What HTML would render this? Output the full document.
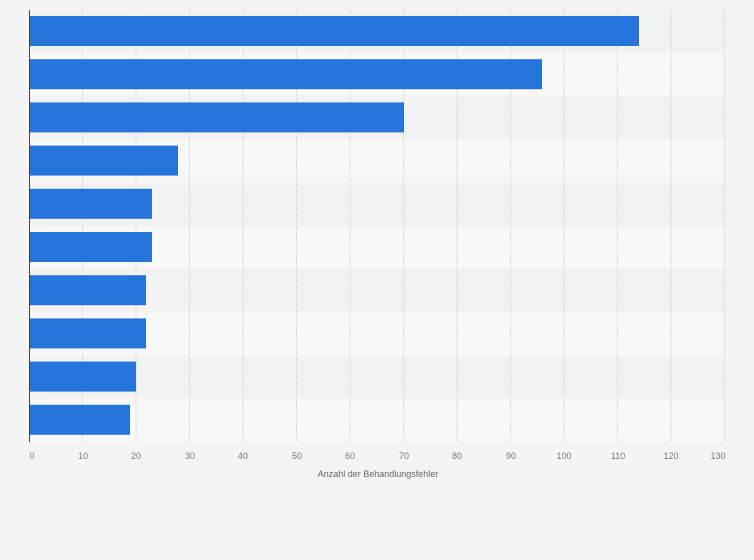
<!DOCTYPE html>
<html><head><meta charset="utf-8"><style>
body{margin:0;background:#f4f4f4;}
svg{display:block;font-family:"Liberation Sans",sans-serif;}
</style></head><body>
<svg width="754" height="560" xmlns="http://www.w3.org/2000/svg">
<rect width="754" height="560" fill="#f4f4f4"/>
<g>
<rect x="30" y="10" width="695" height="43.2" fill="#f2f2f2"/>
<rect x="30" y="53.2" width="695" height="43.2" fill="#f8f8f8"/>
<rect x="30" y="96.4" width="695" height="43.2" fill="#f2f2f2"/>
<rect x="30" y="139.6" width="695" height="43.2" fill="#f8f8f8"/>
<rect x="30" y="182.8" width="695" height="43.2" fill="#f2f2f2"/>
<rect x="30" y="226" width="695" height="43.2" fill="#f8f8f8"/>
<rect x="30" y="269.2" width="695" height="43.2" fill="#f2f2f2"/>
<rect x="30" y="312.4" width="695" height="43.2" fill="#f8f8f8"/>
<rect x="30" y="355.6" width="695" height="43.2" fill="#f2f2f2"/>
<rect x="30" y="398.8" width="695" height="43.2" fill="#f8f8f8"/>
</g>
<g stroke="#d6d6d6" stroke-width="1" stroke-dasharray="2,1">
<line x1="82.5" y1="10" x2="82.5" y2="442"/>
<line x1="136" y1="10" x2="136" y2="442"/>
<line x1="189.5" y1="10" x2="189.5" y2="442"/>
<line x1="243" y1="10" x2="243" y2="442"/>
<line x1="296.5" y1="10" x2="296.5" y2="442"/>
<line x1="350" y1="10" x2="350" y2="442"/>
<line x1="403.5" y1="10" x2="403.5" y2="442"/>
<line x1="457" y1="10" x2="457" y2="442"/>
<line x1="510.5" y1="10" x2="510.5" y2="442"/>
<line x1="564" y1="10" x2="564" y2="442"/>
<line x1="617.5" y1="10" x2="617.5" y2="442"/>
<line x1="671" y1="10" x2="671" y2="442"/>
<line x1="724.5" y1="10" x2="724.5" y2="442"/>
</g>
<g fill="#2574dc">
<rect x="30" y="16" width="609" height="30"/>
<rect x="30" y="59.2" width="512" height="30"/>
<rect x="30" y="102.4" width="374" height="30"/>
<rect x="30" y="145.6" width="148" height="30"/>
<rect x="30" y="188.8" width="122" height="30"/>
<rect x="30" y="232" width="122" height="30"/>
<rect x="30" y="275.2" width="116" height="30"/>
<rect x="30" y="318.4" width="116" height="30"/>
<rect x="30" y="361.6" width="106" height="30"/>
<rect x="30" y="404.8" width="100" height="30"/>
</g>
<line x1="29.5" y1="10" x2="29.5" y2="442" stroke="#444" stroke-width="1"/>
<g font-size="9" fill="#777" text-anchor="middle">
<text x="32" y="459">0</text>
<text x="83" y="459">10</text>
<text x="136" y="459">20</text>
<text x="190" y="459">30</text>
<text x="243" y="459">40</text>
<text x="297" y="459">50</text>
<text x="350" y="459">60</text>
<text x="404" y="459">70</text>
<text x="457" y="459">80</text>
<text x="511" y="459">90</text>
<text x="564" y="459">100</text>
<text x="618" y="459">110</text>
<text x="671" y="459">120</text>
<text x="718" y="459">130</text>
<text x="378" y="477" fill="#666">Anzahl der Behandlungsfehler</text>
</g>
</svg>
</body></html>
